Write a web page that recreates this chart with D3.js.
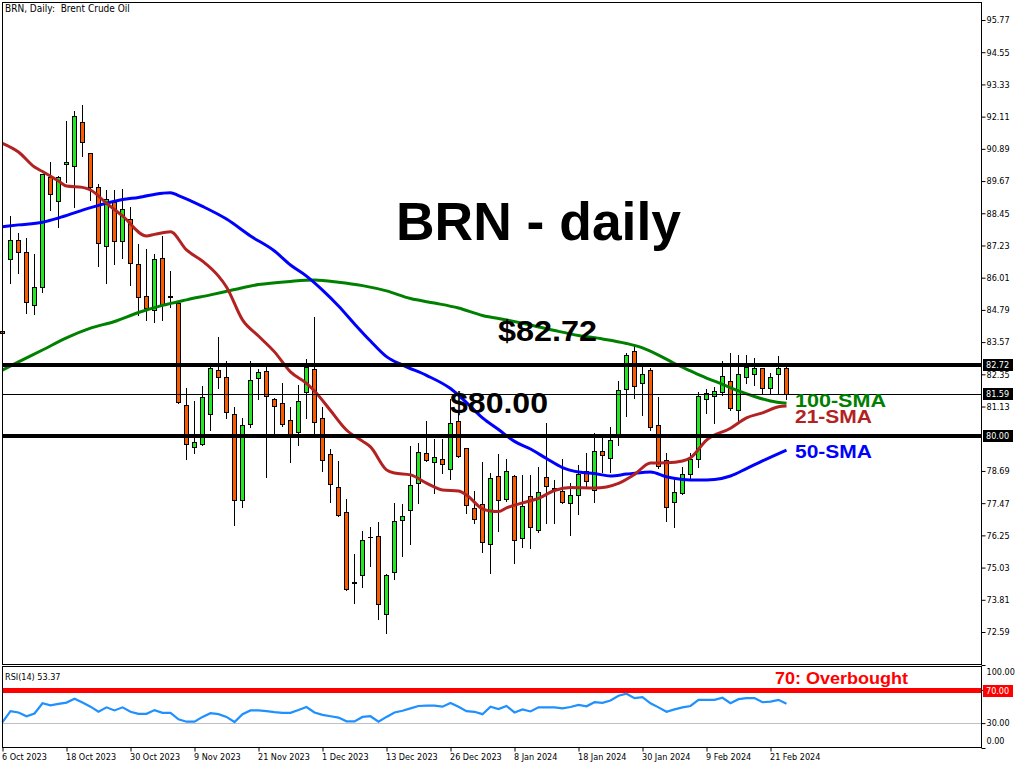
<!DOCTYPE html>
<html><head><meta charset="utf-8">
<script src="https://cdn.jsdelivr.net/npm/d3@7"></script>
<style>body{margin:0;background:#fff}svg{display:block}</style>
</head><body>
<svg id="c" width="1024" height="768"></svg>
<script>
// ---- data ----
const tickLabels = ["6 Oct 2023","18 Oct 2023","30 Oct 2023","9 Nov 2023","21 Nov 2023","1 Dec 2023","13 Dec 2023","26 Dec 2023","8 Jan 2024","18 Jan 2024","30 Jan 2024","9 Feb 2024","21 Feb 2024"];
const tickBars = [0,8,16,24,32,40,48,56,64,72,80,88,96];

const openP = [83.98,86.71,87.44,86.97,84.98,85.67,89.81,88.90,90.32,90.25,91.90,90.72,89.46,87.20,88.89,87.39,88.22,86.53,85.31,84.79,
86.74,85.30,85.04,81.19,79.59,79.70,80.84,82.51,82.25,80.85,77.59,80.46,82.20,82.46,81.40,81.25,80.61,80.15,81.67,82.54,
80.68,79.32,78.07,77.12,74.50,74.74,76.20,76.21,73.26,74.85,76.82,77.20,78.22,79.37,79.02,79.13,78.75,80.57,79.55,77.27,
77.44,75.91,78.50,77.62,78.50,76.14,77.74,76.45,78.46,78.02,77.92,77.46,77.79,78.70,77.96,79.46,79.18,80.08,81.78,83.23,
82.01,82.50,80.42,79.10,77.50,77.84,78.56,79.13,81.40,81.52,81.69,82.09,80.99,82.24,82.37,82.58,81.82,82.36,82.58];
const highP = [84.40,88.35,87.69,87.51,86.91,89.95,90.39,89.85,91.95,92.32,92.55,90.75,89.56,89.33,89.33,89.37,88.68,87.29,87.11,86.91,
87.60,86.26,85.13,81.84,81.34,81.91,82.62,83.75,82.85,81.12,80.68,82.85,82.55,82.64,81.44,82.02,81.11,81.93,82.92,84.53,
81.10,79.52,79.07,77.62,75.54,76.42,76.56,76.77,74.79,77.49,77.44,79.65,79.76,80.59,79.91,79.91,81.42,80.93,79.57,77.94,
79.04,78.62,79.33,79.14,78.55,78.55,78.53,78.85,80.50,78.35,79.13,78.22,78.92,79.36,80.14,80.01,80.34,82.10,83.15,83.46,
82.64,82.58,81.48,79.36,78.41,78.85,79.36,81.67,81.78,81.86,82.87,83.15,83.08,83.07,82.96,82.60,82.39,83.04,82.62];
const lowP = [83.60,85.80,86.20,84.66,84.62,85.48,88.57,87.94,89.65,88.70,90.62,88.95,86.46,85.80,86.52,86.77,85.73,84.60,84.41,84.33,
84.41,84.91,81.28,79.15,79.36,79.66,80.24,81.84,80.71,76.64,77.34,80.37,81.42,78.47,80.05,80.40,79.04,79.67,80.68,80.12,
78.70,77.53,76.98,74.17,73.70,74.28,75.10,73.07,72.54,74.59,75.48,75.93,77.49,79.07,77.84,78.62,78.39,79.20,77.09,76.73,
75.61,74.81,76.43,77.55,75.19,75.82,75.76,76.38,76.71,76.71,77.48,76.26,77.05,78.09,77.50,78.64,78.64,79.67,80.77,81.44,
80.81,80.24,78.80,76.81,76.56,77.82,78.41,78.85,80.90,80.52,81.57,81.01,80.50,82.01,81.95,81.63,81.63,81.63,81.40];
const closeP = [83.90,87.44,86.97,85.08,85.65,89.93,89.17,89.81,90.39,92.12,91.14,89.46,87.31,88.98,87.39,88.60,86.56,85.27,84.85,86.71,
84.98,85.32,81.31,79.70,79.78,81.49,82.60,82.26,80.91,77.59,80.43,82.12,82.43,81.54,81.14,80.46,80.05,81.34,82.62,80.53,
79.10,78.18,77.02,74.21,74.43,76.07,76.20,73.65,74.74,76.79,76.97,78.16,79.40,79.09,79.22,78.94,80.50,79.26,77.40,76.86,
75.99,78.41,77.58,78.68,76.07,77.36,76.56,77.88,78.12,78.04,77.50,77.77,78.59,78.32,79.46,79.28,79.87,81.75,83.07,81.91,
82.35,80.34,78.88,77.31,77.90,78.56,79.13,81.52,81.63,81.71,82.29,81.09,82.36,82.64,82.60,81.82,82.26,82.60,81.59];

// moving averages, sampled [bar index, value]
const sma21 = [[0,91.10],[2,90.77],[4,90.20],[5,90.03],[7,89.67],[8,89.48],[10,89.43],[11,89.33],[13,88.83],[15,88.35],[18,87.59],[19,87.65],[21,87.75],[23,87.06],[25,86.64],[27,86.07],[28,85.66],[30,84.41],[32,83.80],[34,83.20],[36,82.44],[38,82.01],[39,81.72],[41,80.98],[43,80.24],[45,79.82],[46,79.60],[48,78.73],[49,78.61],[51,78.54],[53,78.23],[55,77.97],[57,77.93],[58,77.78],[60,77.25],[61,77.17],[62,77.15],[63,77.29],[65,77.48],[67,77.65],[69,77.95],[71,78.06],[74,78.04],[77,78.22],[79,78.56],[81,78.99],[83,79.00],[85,79.07],[86,79.19],[88,79.86],[91,80.31],[93,80.70],[95,80.89],[97,81.12],[98,81.15]];
const sma50 = [[0,87.94],[2,88.01],[5,88.11],[7,88.27],[10,88.57],[12,88.75],[15,88.97],[17,89.05],[20,89.21],[21,89.23],[22,89.12],[25,88.71],[28,88.23],[31,87.59],[34,87.02],[36,86.49],[38,86.07],[40,85.54],[42,84.94],[44,84.26],[46,83.61],[48,83.02],[50,82.70],[53,82.31],[56,81.81],[58,81.28],[60,80.70],[62,80.26],[64,79.81],[66,79.52],[68,79.16],[70,78.82],[72,78.65],[74,78.59],[76,78.50],[78,78.57],[80,78.63],[81,78.65],[83,78.47],[85,78.37],[87,78.35],[89,78.37],[91,78.50],[93,78.78],[95,79.07],[98,79.48]];
const sma100 = [[0,82.51],[2,82.82],[5,83.27],[8,83.73],[11,84.10],[14,84.35],[17,84.69],[20,84.96],[23,85.17],[26,85.36],[29,85.56],[32,85.75],[36,85.87],[39,85.92],[42,85.84],[45,85.71],[48,85.51],[51,85.22],[54,85.05],[57,84.86],[60,84.58],[63,84.41],[66,84.22],[69,84.01],[72,83.82],[75,83.69],[78,83.52],[80,83.35],[82,83.08],[84,82.76],[86,82.48],[88,82.21],[90,81.97],[92,81.72],[94,81.51],[96,81.34],[98,81.25]];

const rsi14 = [31.28,44.45,42.80,38.28,41.57,53.91,51.45,53.09,54.74,59.26,54.74,49.80,43.63,48.98,45.27,48.98,43.63,41.16,41.16,45.68,
42.39,42.39,34.57,31.69,31.69,37.45,41.98,40.75,37.45,31.28,40.75,45.27,45.27,44.45,43.22,42.39,42.39,45.68,49.39,42.80,
39.92,38.28,36.63,32.11,32.11,37.45,38.28,31.69,37.45,42.80,44.86,47.74,50.62,51.03,51.03,49.80,54.33,49.80,44.45,43.63,
40.75,49.80,46.92,50.62,42.80,46.51,44.04,48.98,48.98,48.98,47.74,49.39,51.86,50.21,55.15,54.33,57.21,62.97,65.44,60.09,
61.32,53.91,48.98,43.63,46.51,48.98,50.62,58.03,58.03,58.03,60.50,53.91,58.85,60.09,60.09,55.15,55.97,58.03,53.37];

const priceTicks = [95.77,94.55,93.33,92.11,90.89,89.67,88.45,87.23,86.01,84.79,83.57,82.35,81.13,78.69,77.47,76.25,75.03,73.81,72.59];
const rsiTicks = [100,70,30,0];
const thickLevels = [82.72, 80.00];
const bidLevel = 81.59;
const rsiLevels = {over:70, under:30};
const rsiLast = 53.37;

// ---- drawing ----
const svg = d3.select("#c");
const F = "'DejaVu Sans Condensed','DejaVu Sans',sans-serif";
const B = "'Liberation Sans',Arial,Helvetica,sans-serif";
const L = 2.5, R = 981.5, T = 2.5, MB = 664.5, RT = 666.5, RB = 747.5;

const x = d3.scaleLinear().domain([0, 122.375]).range([2.5, 981.5]);
const y = d3.scaleLinear().domain([72.59, 95.77]).range([632, 20]);
const yr = d3.scaleLinear().domain([0, 100]).range([748, 665]);

svg.append("rect").attr("width",1024).attr("height",768).attr("fill","#fff");

// candles
const idx = d3.range(openP.length);
const cg = svg.append("g");
const cx = i => Math.round(x(i) - 0.5) + 0.5;
cg.selectAll("line.w").data(idx).join("line").attr("class","w")
  .attr("x1", cx).attr("x2", cx)
  .attr("y1", i => Math.round(y(highP[i])))
  .attr("y2", i => Math.round(y(lowP[i])) + 1)
  .attr("stroke", "#000").attr("stroke-width", 1);
const bodies = idx.filter(i => openP[i] !== closeP[i]);
cg.selectAll("rect.b").data(bodies).join("rect").attr("class","b")
  .attr("x", i => cx(i) - 2)
  .attr("width", 4)
  .attr("y", i => Math.round(y(Math.max(openP[i], closeP[i]))) + 0.5)
  .attr("height", i => Math.max(1, Math.round(y(Math.min(openP[i], closeP[i]))) - Math.round(y(Math.max(openP[i], closeP[i])))))
  .attr("fill", i => closeP[i] > openP[i] ? "#22e822" : "#fa5a00")
  .attr("stroke", "#000").attr("stroke-width", 1);
const dojis = idx.filter(i => openP[i] === closeP[i]);
cg.selectAll("line.d").data(dojis).join("line").attr("class","d")
  .attr("x1", i => cx(i) - 2.5).attr("x2", i => cx(i) + 2.5)
  .attr("y1", i => Math.round(y(openP[i])) + 0.5).attr("y2", i => Math.round(y(openP[i])) + 0.5)
  .attr("stroke", "#000").attr("stroke-width", 1);

// moving averages
const maLine = d3.line().x(d => x(d[0])).y(d => y(d[1])).curve(d3.curveMonotoneX);
[[sma100,"#008000"],[sma50,"#0000ff"],[sma21,"#b22222"]].forEach(([s,c]) => {
  svg.append("path").attr("d", maLine(s)).attr("fill","none").attr("stroke",c).attr("stroke-width",3);
});

// level lines
svg.selectAll("line.lvl").data(thickLevels).join("line").attr("class","lvl")
  .attr("x1", L).attr("x2", R)
  .attr("y1", d => Math.round(y(d))).attr("y2", d => Math.round(y(d)))
  .attr("stroke","#000").attr("stroke-width",4);
svg.append("line").attr("x1",L).attr("x2",R)
  .attr("y1", Math.round(y(bidLevel))+0.5).attr("y2", Math.round(y(bidLevel))+0.5)
  .attr("stroke","#000").attr("stroke-width",1);

// RSI panel
svg.append("line").attr("x1",L).attr("x2",R)
  .attr("y1", Math.round(yr(rsiLevels.under))+0.5).attr("y2", Math.round(yr(rsiLevels.under))+0.5)
  .attr("stroke","#c0c0c0").attr("stroke-width",1);
svg.append("line").attr("x1",L).attr("x2",R)
  .attr("y1", Math.round(yr(rsiLevels.over))+0.5).attr("y2", Math.round(yr(rsiLevels.over))+0.5)
  .attr("stroke","#ff0000").attr("stroke-width",5);
const rsiLine = d3.line().x((d,i) => x(i)).y(d => yr(d));
svg.append("path").attr("d", rsiLine(rsi14)).attr("fill","none").attr("stroke","#1e90ff").attr("stroke-width",2.2);

// borders
const bd = svg.append("g").attr("fill","none").attr("stroke","#000").attr("stroke-width",1);
bd.append("rect").attr("x",L).attr("y",T).attr("width",R-L).attr("height",MB-T);
bd.append("rect").attr("x",L).attr("y",RT).attr("width",R-L).attr("height",RB-RT);

// right price axis
const ya = d3.axisRight(y).tickValues(priceTicks).tickSize(4).tickPadding(1).tickFormat(d3.format(".2f"));
svg.append("g").attr("transform",`translate(${R},0)`).call(ya)
  .call(g => g.select(".domain").remove())
  .attr("font-family",F).attr("font-size",9).attr("font-stretch","condensed");

// RSI axis
const yra = d3.axisRight(yr).tickValues(rsiTicks).tickSize(4).tickPadding(1).tickFormat(d3.format(".2f"));
const rg = svg.append("g").attr("transform",`translate(${R},0)`).call(yra)
  .call(g => g.select(".domain").remove())
  .attr("font-family",F).attr("font-size",9).attr("font-stretch","condensed");
rg.selectAll(".tick text").attr("dy", d => d === 100 ? "1.1em" : d === 0 ? "-0.45em" : "0.32em");

// bottom date axis
const xa = d3.axisBottom(x).tickValues(tickBars).tickSize(4).tickPadding(2).tickFormat((d,i) => tickLabels[i]);
svg.append("g").attr("transform",`translate(0,${RB})`).call(xa)
  .call(g => g.select(".domain").remove())
  .attr("font-family",F).attr("font-size",9).attr("font-stretch","condensed")
  .selectAll(".tick text").attr("text-anchor","start").attr("dx",-1);

// price tags on axis
const tags = [[thickLevels[0],"#000"],[bidLevel,"#000"],[thickLevels[1],"#000"]];
const tg = svg.append("g").attr("font-family",F).attr("font-size",9).attr("font-stretch","condensed");
tags.forEach(([v,c]) => {
  const yy = Math.round(y(v));
  tg.append("rect").attr("x",983).attr("y",yy-6).attr("width",30).attr("height",12).attr("fill",c);
  tg.append("text").attr("x",986).attr("y",yy).attr("dy","0.35em").attr("fill","#fff").text(d3.format(".2f")(v));
});
{
  const yy = Math.round(yr(rsiLevels.over));
  tg.append("rect").attr("x",983).attr("y",yy-5).attr("width",30).attr("height",12).attr("fill","#ff0000");
  tg.append("text").attr("x",986).attr("y",yy+1).attr("dy","0.35em").attr("fill","#fff").text(d3.format(".2f")(rsiLevels.over));
}

// header texts
svg.append("text").attr("x",5).attr("y",12).attr("font-family",F).attr("font-size",10).attr("font-stretch","condensed")
  .style("white-space","pre").text("BRN, Daily:  Brent Crude Oil");
svg.append("text").attr("x",5).attr("y",680).attr("font-family",F).attr("font-size",9).attr("font-stretch","condensed")
  .text("RSI(14) " + d3.format(".2f")(rsiLast));

// annotations
const ann = svg.append("g").attr("font-family",B).attr("font-weight","bold");
ann.append("text").attr("x",396).attr("y",240).attr("font-size",53).attr("textLength",285).attr("lengthAdjust","spacingAndGlyphs").text("BRN - daily");
ann.append("text").attr("x",498).attr("y",341).attr("font-size",29).attr("textLength",99).attr("lengthAdjust","spacingAndGlyphs").text("$" + d3.format(".2f")(thickLevels[0]));
ann.append("text").attr("x",450).attr("y",413).attr("font-size",29).attr("textLength",98).attr("lengthAdjust","spacingAndGlyphs").text("$" + d3.format(".2f")(thickLevels[1]));
ann.append("text").attr("x",795).attr("y",406.5).attr("font-size",18).attr("fill","#008000").attr("textLength",91).attr("lengthAdjust","spacingAndGlyphs").text("100-SMA");
ann.append("text").attr("x",795).attr("y",422.5).attr("font-size",18).attr("fill","#b22222").attr("textLength",77).attr("lengthAdjust","spacingAndGlyphs").text("21-SMA");
ann.append("text").attr("x",795).attr("y",457.5).attr("font-size",19).attr("fill","#0000ff").attr("textLength",77).attr("lengthAdjust","spacingAndGlyphs").text("50-SMA");
ann.append("text").attr("x",775).attr("y",684).attr("font-size",16.5).attr("fill","#ff0000").attr("textLength",133).attr("lengthAdjust","spacingAndGlyphs").text("70: Overbought");
</script>
</body></html>
